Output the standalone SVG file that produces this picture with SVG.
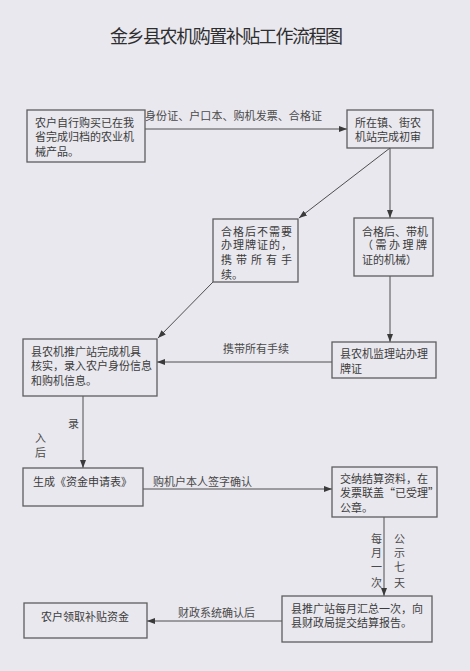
<svg xmlns="http://www.w3.org/2000/svg" width="470" height="671" viewBox="0 0 470 671">
<defs>
<style>
text{font-family:"Noto Sans CJK SC","Liberation Serif",sans-serif;fill:#3c3c3c;font-size:11px}
.title{font-size:18px;fill:#2e2e2e}
.box{fill:none;stroke:#5e5e5e;stroke-width:1.3}
.conn{fill:none;stroke:#4e4e4e;stroke-width:1}
.lbl{fill:#4a4a4a}
</style>
<marker id="ah" viewBox="0 0 8 6" refX="8" refY="3" markerWidth="8" markerHeight="6" markerUnits="userSpaceOnUse" orient="auto">
<path d="M0,0 L8,3 L0,6 Z" fill="#3a3a3a"/>
</marker>
</defs>
<rect x="0" y="0" width="470" height="671" fill="#e9e8ee"/>
<text class="title" x="110" y="43" textLength="233" lengthAdjust="spacing">金乡县农机购置补贴工作流程图</text>

<g id="connectors">
<line class="conn" x1="145" y1="129" x2="347" y2="129" marker-end="url(#ah)"/>
<line class="conn" x1="390" y1="148" x2="299" y2="218" marker-end="url(#ah)"/>
<line class="conn" x1="390" y1="148" x2="390" y2="218" marker-end="url(#ah)"/>
<line class="conn" x1="213" y1="282" x2="158" y2="338" marker-end="url(#ah)"/>
<line class="conn" x1="390" y1="276" x2="390" y2="342" marker-end="url(#ah)"/>
<line class="conn" x1="332" y1="362" x2="157" y2="362" marker-end="url(#ah)"/>
<line class="conn" x1="83" y1="396" x2="83" y2="468" marker-end="url(#ah)"/>
<line class="conn" x1="143" y1="489" x2="332" y2="489" marker-end="url(#ah)"/>
<line class="conn" x1="384" y1="517" x2="384" y2="596" marker-end="url(#ah)"/>
<line class="conn" x1="282" y1="621" x2="147" y2="621" marker-end="url(#ah)"/>
<text class="lbl" x="145" y="120" textLength="177" lengthAdjust="spacing">身份证、户口本、购机发票、合格证</text>
<text class="lbl" x="223" y="353">携带所有手续</text>
<text class="lbl" x="68" y="428">录</text>
<text class="lbl" x="35" y="442">入</text>
<text class="lbl" x="35" y="457">后</text>
<text class="lbl" x="153" y="486">购机户本人签字确认</text>
<text class="lbl" x="371" y="543">每</text>
<text class="lbl" x="371" y="557">月</text>
<text class="lbl" x="371" y="571">一</text>
<text class="lbl" x="371" y="587">次</text>
<text class="lbl" x="394" y="543">公</text>
<text class="lbl" x="394" y="557">示</text>
<text class="lbl" x="394" y="571">七</text>
<text class="lbl" x="394" y="587">天</text>
<text class="lbl" x="178" y="617">财政系统确认后</text>
</g>

<g id="n1">
<rect class="box" x="27" y="110" width="118" height="52"/>
<text x="35" y="127">农户自行购买已在我</text>
<text x="35" y="141">省完成归档的农业机</text>
<text x="35" y="156">械产品。</text>
</g>
<g id="n2">
<rect class="box" x="347" y="110" width="86" height="38"/>
<text x="355" y="127">所在镇、街农</text>
<text x="355" y="141">机站完成初审</text>
</g>
<g id="n3">
<rect class="box" x="213" y="219" width="85" height="63"/>
<text x="221" y="236" textLength="71" lengthAdjust="spacing">合格后不需要</text>
<text x="221" y="249" textLength="71" lengthAdjust="spacing">办理牌证的，</text>
<text x="221" y="264" textLength="71" lengthAdjust="spacing">携带所有手</text>
<text x="221" y="279">续。</text>
</g>
<g id="n4">
<rect class="box" x="354" y="218" width="79" height="58"/>
<text x="362" y="236">合格后、带机</text>
<text x="362" y="249" textLength="65" lengthAdjust="spacing">（需办理牌</text>
<text x="362" y="264">证的机械）</text>
</g>
<g id="n5">
<rect class="box" x="23" y="339" width="134" height="57"/>
<text x="31" y="356">县农机推广站完成机具</text>
<text x="31" y="370">核实，录入农户身份信息</text>
<text x="31" y="385">和购机信息。</text>
</g>
<g id="n6">
<rect class="box" x="332" y="342" width="104" height="36"/>
<text x="340" y="358">县农机监理站办理</text>
<text x="340" y="373">牌证</text>
</g>
<g id="n7">
<rect class="box" x="23" y="468" width="120" height="38"/>
<text x="33" y="486">生成《资金申请表》</text>
</g>
<g id="n8">
<rect class="box" x="332" y="467" width="105" height="50"/>
<text x="340" y="483">交纳结算资料，在</text>
<text x="340" y="497">发票联盖“已受理”</text>
<text x="340" y="512">公章。</text>
</g>
<g id="n9">
<rect class="box" x="282" y="596" width="150" height="46"/>
<text x="291" y="613">县推广站每月汇总一次，向</text>
<text x="291" y="627">县财政局提交结算报告。</text>
</g>
<g id="n10">
<rect class="box" x="24" y="603" width="123" height="35"/>
<text x="41" y="621">农户领取补贴资金</text>
</g>
</svg>
